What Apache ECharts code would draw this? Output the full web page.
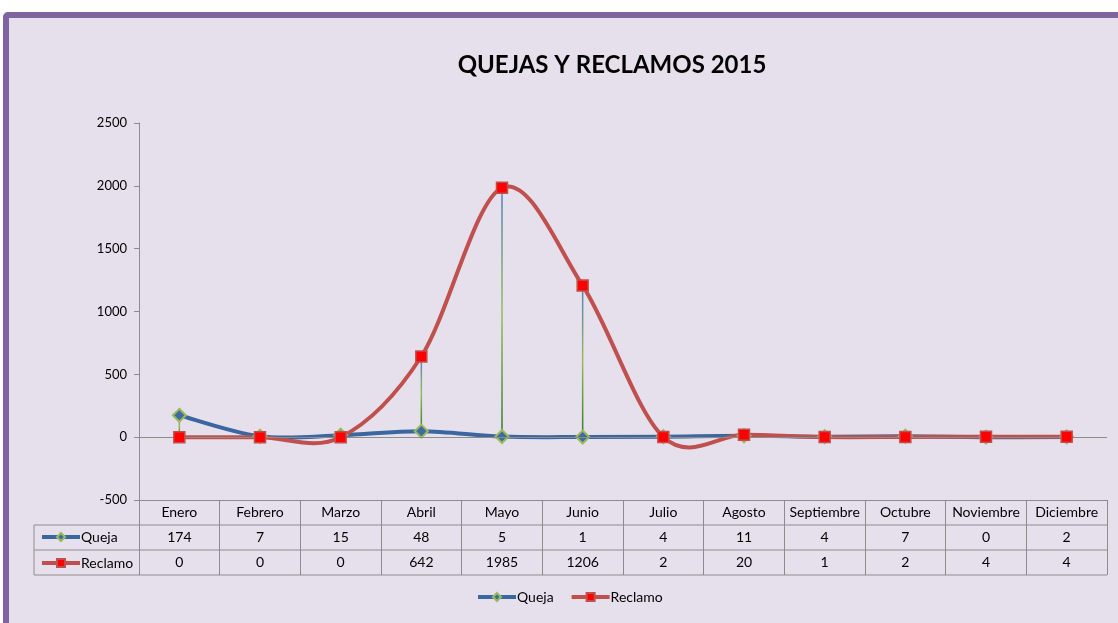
<!DOCTYPE html>
<html>
<head>
<meta charset="utf-8">
<script src="https://cdn.jsdelivr.net/npm/echarts@6/dist/echarts.min.js"></script>
<style>
  html, body { margin: 0; padding: 0; background: #fff; overflow: hidden; }
  #frame {
    position: absolute; left: 3px; top: 12px; width: 1200px; height: 700px;
    background: #E6E0EC; border: 6px solid #8064A2; border-radius: 5px;
  }
  #chart { position: absolute; left: 0; top: 0; width: 1118px; height: 623px; }
</style>
</head>
<body>
<div id="frame"></div>
<div id="chart"></div>
<script>
const months = ['Enero', 'Febrero', 'Marzo', 'Abril', 'Mayo', 'Junio', 'Julio',
    'Agosto', 'Septiembre', 'Octubre', 'Noviembre', 'Diciembre'];
const queja = [174, 7, 15, 48, 5, 1, 4, 11, 4, 7, 0, 2];
const reclamo = [0, 0, 0, 642, 1985, 1206, 2, 20, 1, 2, 4, 4];
const yTicks = { min: -500, max: 2500, interval: 500 };

const font = 'Lato, "Open Sans", sans-serif';
const gridColor = '#8c8c8c';
const blue = '#3A67A0';
const red = '#C0504D';

// table lines under the plot (rows of the data table)
const tableLines = [525, 550, 575].map(y => ({
    type: 'line', silent: true,
    shape: { x1: 34, y1: y, x2: 1107, y2: y },
    style: { stroke: gridColor, lineWidth: 1 }
}));
tableLines.push({
    type: 'line', silent: true,
    shape: { x1: 34, y1: 525, x2: 34, y2: 575 },
    style: { stroke: gridColor, lineWidth: 1 }
});

// excel-like smoothed line: catmull-rom segments through the data points
function curveSeries(name, values, color, z) {
    return {
        name: name + '-curve',
        type: 'custom',
        z: z,
        silent: true,
        data: values.map((v, i) => [i, v]),
        encode: { x: 0, y: 1 },
        renderItem: (params, api) => {
            const i = params.dataIndex;
            if (i >= values.length - 1) return null;
            const p = j => {
                const k = Math.max(0, Math.min(values.length - 1, j));
                return api.coord([k, values[k]]);
            };
            const p0 = p(i - 1), p1 = p(i), p2 = p(i + 1), p3 = p(i + 2);
            return {
                type: 'bezierCurve',
                shape: {
                    x1: p1[0], y1: p1[1], x2: p2[0], y2: p2[1],
                    cpx1: p1[0] + (p2[0] - p0[0]) / 6, cpy1: p1[1] + (p2[1] - p0[1]) / 6,
                    cpx2: p2[0] - (p3[0] - p1[0]) / 6, cpy2: p2[1] - (p3[1] - p1[1]) / 6
                },
                style: { stroke: color, lineWidth: 4, fill: null, lineCap: 'round' }
            };
        }
    };
}

const chart = echarts.init(document.getElementById('chart'), null, { renderer: 'canvas' });

const legendBase = {
    data: ['Queja', 'Reclamo'],
    padding: 0,
    itemWidth: 38, itemHeight: 10,
    lineStyle: { opacity: 1, width: 4 },
    textStyle: { fontFamily: font, fontSize: 14, color: '#000', lineHeight: 14, padding: [0, 0, 0, -4] }
};

const option = {
    backgroundColor: 'transparent',
    title: {
        text: 'QUEJAS Y RECLAMOS 2015',
        left: 607, top: 48, textAlign: 'center',
        textStyle: { fontFamily: font, fontSize: 24, fontWeight: 'bold', color: '#000' }
    },
    grid: { left: 139, right: 11, top: 123, bottom: 123 },
    legend: [
        Object.assign({}, legendBase, { orient: 'vertical', left: 40, top: 530, itemGap: 12 }),
        Object.assign({}, legendBase, { orient: 'horizontal', left: 476, top: 590, itemGap: 16 })
    ],
    xAxis: {
        type: 'category',
        data: months,
        boundaryGap: true,
        axisLine: { onZero: false, lineStyle: { color: gridColor } },
        axisTick: { show: true, length: 75, lineStyle: { color: gridColor } },
        axisLabel: {
            margin: 0,
            interval: 0,
            lineHeight: 25,
            formatter: (v, i) => `{m|${v}}\n{v|${queja[i]}}\n{v|${reclamo[i]}}`,
            rich: {
                m: { fontFamily: font, fontSize: 14, color: '#000', lineHeight: 25 },
                v: { fontFamily: font, fontSize: 14, color: '#000', lineHeight: 25 }
            }
        }
    },
    yAxis: {
        type: 'value',
        min: yTicks.min, max: yTicks.max, interval: yTicks.interval,
        axisLine: { show: true, lineStyle: { color: gridColor } },
        axisTick: { show: true, length: 5, lineStyle: { color: gridColor } },
        splitLine: { show: false },
        axisLabel: { fontFamily: font, fontSize: 13, color: '#000', margin: 12, formatter: v => String(v) }
    },
    graphic: tableLines,
    series: [
        {
            // high-low lines between the two series
            name: 'hilo',
            type: 'custom',
            z: 1,
            silent: true,
            data: months.map((m, i) => [i, queja[i], reclamo[i]]),
            encode: { x: 0, y: [1, 2] },
            renderItem: (params, api) => {
                const a = api.coord([api.value(0), api.value(1)]);
                const b = api.coord([api.value(0), api.value(2)]);
                const top = a[1] < b[1] ? a : b;
                const bot = a[1] < b[1] ? b : a;
                return {
                    type: 'line',
                    shape: { x1: top[0], y1: top[1], x2: bot[0], y2: bot[1] },
                    style: {
                        lineWidth: 1.5,
                        stroke: new echarts.graphic.LinearGradient(0, top[1], 0, bot[1], [
                            { offset: 0, color: '#4F81BD' },
                            { offset: 0.5, color: '#9BBB59' },
                            { offset: 1, color: '#2E7A1E' }
                        ], true)
                    }
                };
            }
        },
        curveSeries('Queja', queja, blue, 2),
        curveSeries('Reclamo', reclamo, red, 3),
        {
            name: 'Queja',
            type: 'line',
            z: 4,
            data: queja,
            symbol: 'diamond',
            symbolSize: 13,
            lineStyle: { color: blue, width: 4, opacity: 0 },
            itemStyle: { color: '#3F6BA3', borderColor: '#9BBB59', borderWidth: 2 },
            markLine: {
                silent: true, symbol: 'none',
                label: { show: false },
                lineStyle: { color: gridColor, width: 1, type: 'solid', opacity: 1 },
                data: [{ yAxis: 0 }]
            }
        },
        {
            name: 'Reclamo',
            type: 'line',
            z: 5,
            data: reclamo,
            symbol: 'rect',
            symbolSize: 11,
            lineStyle: { color: red, width: 4, opacity: 0 },
            itemStyle: { color: '#FF0000', borderColor: red, borderWidth: 1.5 }
        }
    ]
};
chart.setOption(option);
</script>
</body>
</html>
